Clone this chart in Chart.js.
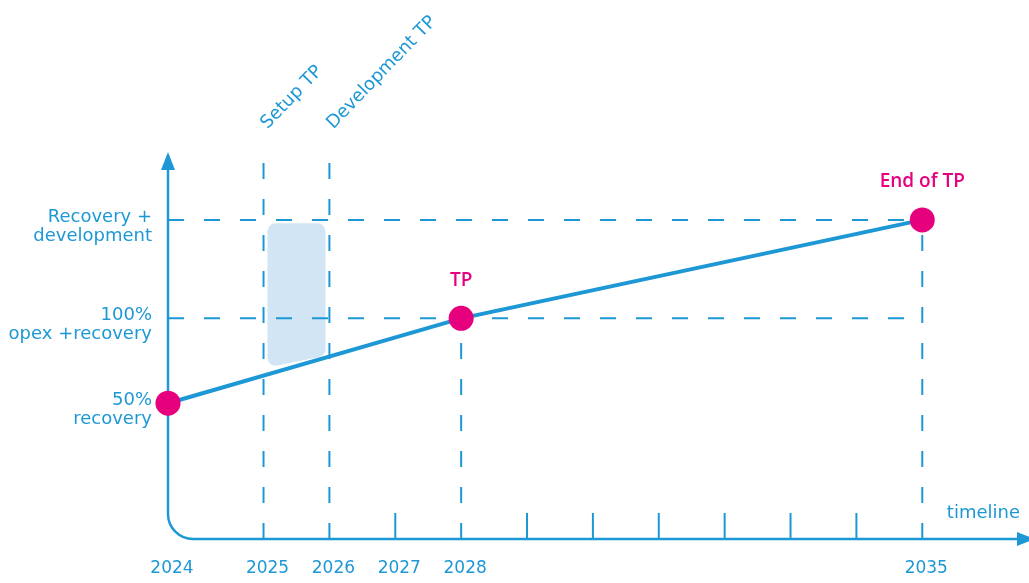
<!DOCTYPE html>
<html>
<head>
<meta charset="utf-8">
<script src="https://cdn.jsdelivr.net/npm/chart.js@4/dist/chart.umd.min.js"></script>
<style>
  html, body { margin: 0; padding: 0; background: #fff; }
  #chart { display: block; }
</style>
</head>
<body>
<canvas id="chart" width="1029" height="583"></canvas>
<script>
    // milestones on the line
    const milestoneYears = [2024, 2028, 2035];
    const milestoneValues = [50, 100, 158];
    const milestoneNames = ['', 'TP', 'End of TP'];

    // y levels and their labels
    const levelValues = [50, 100, 158];
    const levelLabels = [['50%', 'recovery'], ['100%', 'opex +recovery'], ['Recovery +', 'development']];

    // phases (vertical guides going up to the top)
    const phaseYears = [2025, 2026];
    const phaseNames = ['Setup TP', 'Development TP'];
    const phaseTop = 196;

    // shaded setup box
    const bandYears = [2025.06, 2025.94];
    const bandTop = 156;
    const bandBottom = [71, 78];

    // x axis
    const tickYears = [2025, 2026, 2027, 2028, 2029, 2030, 2031, 2032, 2033, 2034, 2035];
    const yearLabels = [2024, 2025, 2026, 2027, 2028, 2035];
    const xMin = 2024, xMax = 2036.62;
    const yMin = -30, yMax = 198;

    const blue = '#1d98d5';
    const pink = '#e6007e';
    const boxBlue = '#d1e5f4';
    const font = '"DejaVu Sans", sans-serif';

    // first year sits on the y axis and gets a wider step than the rest
    const firstGap = 1.45;
    function stretch(u) {
      return u <= 1 ? u * firstGap : firstGap + (u - 1);
    }
    function unstretch(s) {
      return s <= firstGap ? s / firstGap : 1 + (s - firstGap);
    }

    class TimelineScale extends Chart.LinearScale {
      getPixelForValue(value) {
        if (value === null || value === undefined || isNaN(value)) return NaN;
        return this.getPixelForDecimal(stretch(value - this.min) / stretch(this.max - this.min));
      }
      getValueForPixel(pixel) {
        const d = this.getDecimalForPixel(pixel);
        return this.min + unstretch(d * stretch(this.max - this.min));
      }
    }
    TimelineScale.id = 'timeline';
    TimelineScale.defaults = Chart.LinearScale.defaults;
    Chart.register(TimelineScale);

    // dashed guide lines
    const guides = [];
    milestoneYears.forEach((yr, i) => {
      if (i === 0) return;
      guides.push([{x: yr, y: yMin}, {x: yr, y: milestoneValues[i]}]);
    });
    levelValues.forEach((v, i) => {
      if (i === 0) return;
      guides.push([{x: xMin, y: v}, {x: milestoneYears[milestoneYears.length - 1], y: v}]);
    });
    phaseYears.forEach(yr => {
      guides.push([{x: yr, y: yMin}, {x: yr, y: phaseTop}]);
    });

    const guideSets = guides.map(g => ({
      data: g,
      borderColor: blue,
      borderWidth: 2,
      borderDash: [16, 20],
      pointRadius: 0,
      fill: false,
      clip: false
    }));

    const axesPlugin = {
      id: 'axes',
      beforeDatasetsDraw(chart) {
        const {ctx, chartArea: a, scales: {x, y}} = chart;
        const left = a.left, bottom = a.bottom, r = 25;
        ctx.save();

        // setup box
        const bx1 = x.getPixelForValue(bandYears[0]);
        const bx2 = x.getPixelForValue(bandYears[1]);
        const by = y.getPixelForValue(bandTop);
        const bl = y.getPixelForValue(bandBottom[0]);
        const br = y.getPixelForValue(bandBottom[1]);
        const rr = 8;
        ctx.fillStyle = boxBlue;
        ctx.beginPath();
        ctx.moveTo(bx1 + rr, by);
        ctx.arcTo(bx2, by, bx2, br, rr);
        ctx.arcTo(bx2, br, bx1, bl, rr);
        ctx.arcTo(bx1, bl, bx1, by, rr);
        ctx.arcTo(bx1, by, bx2, by, rr);
        ctx.closePath();
        ctx.fill();

        // axes
        ctx.strokeStyle = blue;
        ctx.fillStyle = blue;
        ctx.lineWidth = 2.5;
        ctx.beginPath();
        ctx.moveTo(left, a.top + 14);
        ctx.lineTo(left, bottom - r);
        ctx.arcTo(left, bottom, left + r, bottom, r);
        ctx.lineTo(a.right - 12, bottom);
        ctx.stroke();

        ctx.beginPath();
        ctx.moveTo(left, a.top);
        ctx.lineTo(left - 7, a.top + 18);
        ctx.lineTo(left + 7, a.top + 18);
        ctx.closePath();
        ctx.fill();

        ctx.beginPath();
        ctx.moveTo(a.right + 6, bottom);
        ctx.lineTo(a.right - 12, bottom - 7);
        ctx.lineTo(a.right - 12, bottom + 7);
        ctx.closePath();
        ctx.fill();

        // small ticks where no guide comes down
        const guided = milestoneYears.concat(phaseYears);
        ctx.lineWidth = 2;
        tickYears.forEach(yr => {
          if (guided.includes(yr)) return;
          const px = x.getPixelForValue(yr);
          ctx.beginPath();
          ctx.moveTo(px, bottom);
          ctx.lineTo(px, bottom - 26);
          ctx.stroke();
        });
        ctx.restore();
      },
      afterDatasetsDraw(chart) {
        const {ctx, chartArea: a, scales: {x, y}} = chart;
        ctx.save();

        // year labels under the axis
        ctx.fillStyle = blue;
        ctx.font = '17px ' + font;
        ctx.textAlign = 'center';
        ctx.textBaseline = 'middle';
        yearLabels.forEach(yr => {
          ctx.fillText(String(yr), x.getPixelForValue(yr) + 4, a.bottom + 30);
        });

        // y level labels
        ctx.font = '18px ' + font;
        ctx.textAlign = 'right';
        levelValues.forEach((v, i) => {
          const py = y.getPixelForValue(v);
          ctx.fillText(levelLabels[i][0], a.left - 16, py - 3);
          ctx.fillText(levelLabels[i][1], a.left - 16, py + 16);
        });

        // phase labels, rotated
        ctx.textAlign = 'left';
        ctx.textBaseline = 'alphabetic';
        const topPx = y.getPixelForValue(phaseTop);
        phaseYears.forEach((yr, i) => {
          ctx.save();
          ctx.translate(x.getPixelForValue(yr) + 4, topPx - 26);
          ctx.rotate(-46 * Math.PI / 180);
          ctx.fillText(phaseNames[i], 0, 0);
          ctx.restore();
        });

        // timeline label
        ctx.textAlign = 'right';
        ctx.textBaseline = 'middle';
        ctx.fillText('timeline', a.right - 9, a.bottom - 26);

        // milestone labels
        ctx.fillStyle = pink;
        ctx.font = '600 19px "Open Sans", sans-serif';
        ctx.textAlign = 'center';
        milestoneYears.forEach((yr, i) => {
          if (!milestoneNames[i]) return;
          ctx.fillText(milestoneNames[i], x.getPixelForValue(yr), y.getPixelForValue(milestoneValues[i]) - 38);
        });
        ctx.restore();
      }
    };

    const ctx = document.getElementById('chart').getContext('2d');
    const chart = new Chart(ctx, {
      type: 'line',
      data: {
        datasets: [{
          data: milestoneYears.map((yr, i) => ({x: yr, y: milestoneValues[i]})),
          borderColor: blue,
          borderWidth: 4,
          pointRadius: 12.5,
          pointBackgroundColor: pink,
          pointBorderWidth: 0,
          fill: false,
          clip: false
        }].concat(guideSets)
      },
      options: {
        responsive: false,
        animation: false,
        events: [],
        layout: {
          autoPadding: false,
          padding: {left: 168, top: 152, right: 0, bottom: 44}
        },
        scales: {
          x: {
            type: 'timeline',
            min: xMin,
            max: xMax,
            display: false
          },
          y: {
            type: 'linear',
            min: yMin,
            max: yMax,
            display: false
          }
        },
        plugins: {
          legend: {display: false},
          tooltip: {enabled: false}
        }
      },
      plugins: [axesPlugin]
    });
</script>
</body>
</html>
